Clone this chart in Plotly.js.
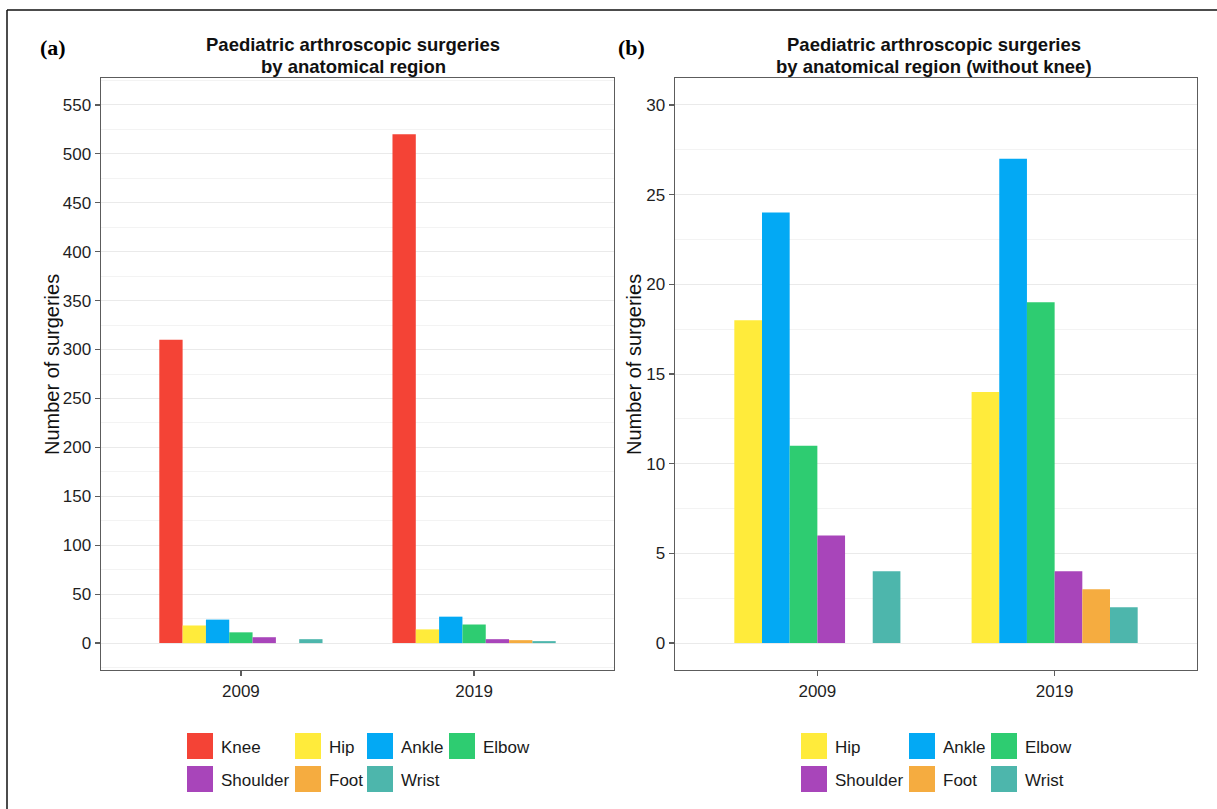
<!DOCTYPE html>
<html>
<head>
<meta charset="utf-8">
<script src="https://cdn.plot.ly/plotly-3.0.1.min.js"></script>
<style>
  html, body { margin: 0; padding: 0; background: #ffffff; }
  #chart { width: 1217px; height: 809px; }
</style>
</head>
<body>
<div id="chart"></div>
<script>
// ---- Data ----
const years = ['2009', '2019'];
const regionsAll = ['Knee', 'Hip', 'Ankle', 'Elbow', 'Shoulder', 'Foot', 'Wrist'];
const regionsNoKnee = ['Hip', 'Ankle', 'Elbow', 'Shoulder', 'Foot', 'Wrist'];
const knee = [310, 520];
const hip = [18, 14];
const ankle = [24, 27];
const elbow = [11, 19];
const shoulder = [6, 4];
const foot = [0, 3];
const wrist = [4, 2];
const seriesValues = { Knee: knee, Hip: hip, Ankle: ankle, Elbow: elbow, Shoulder: shoulder, Foot: foot, Wrist: wrist };
const regionColors = {
  Knee: '#F44336', Hip: '#FFEB3B', Ankle: '#03A9F4', Elbow: '#2ECC71',
  Shoulder: '#A845BA', Foot: '#F5AC40', Wrist: '#4DB6AC'
};
const titleA = ['Paediatric arthroscopic surgeries', 'by anatomical region'];
const titleB = ['Paediatric arthroscopic surgeries', 'by anatomical region (without knee)'];
const yTitle = 'Number of surgeries';

// ---- Geometry helpers (pixel -> paper) ----
const W = 1217, H = 809;
const px = x => x / W;
const py = y => 1 - y / H;

const FONT = 'Liberation Sans, Arial, sans-serif';
const frameColor = '#5c5c5c';

const traces = [];
regionsAll.forEach(r => {
  traces.push({
    type: 'bar', name: r, x: years, y: seriesValues[r],
    xaxis: 'x', yaxis: 'y', showlegend: false,
    marker: { color: regionColors[r], line: { width: 0 } },
    hoverinfo: 'x+y+name'
  });
});
regionsNoKnee.forEach(r => {
  traces.push({
    type: 'bar', name: r, x: years, y: seriesValues[r],
    xaxis: 'x2', yaxis: 'y2', showlegend: false,
    marker: { color: regionColors[r], line: { width: 0 } },
    hoverinfo: 'x+y+name'
  });
});

const axisCommon = {
  showline: true, mirror: true, linecolor: frameColor, linewidth: 1.4,
  ticks: 'outside', ticklen: 5, tickwidth: 1.2, tickcolor: frameColor,
  tickfont: { family: FONT, size: 17, color: '#1f1f1f' },
  zeroline: false, fixedrange: true
};

const panelTop = 78, panelBottom = 670;
const A = { left: 101, right: 614 };
const B = { left: 675, right: 1197 };

const layout = {
  width: W, height: H,
  margin: { l: 0, r: 0, t: 0, b: 0 },
  paper_bgcolor: '#ffffff', plot_bgcolor: '#ffffff',
  barmode: 'group', bargap: 0.3, bargroupgap: 0,
  showlegend: false,
  xaxis: Object.assign({}, axisCommon, {
    domain: [px(A.left), px(A.right)], anchor: 'y', type: 'category',
    range: [-0.6, 1.6], showgrid: false
  }),
  yaxis: Object.assign({}, axisCommon, {
    domain: [py(panelBottom), py(panelTop)], anchor: 'x',
    range: [-27.5, 577.5], tick0: 0, dtick: 50,
    showgrid: true, gridcolor: '#EAEAEA', gridwidth: 1,
    minor: { dtick: 25, showgrid: true, gridcolor: '#F3F3F3', gridwidth: 1, ticks: '' }
  }),
  xaxis2: Object.assign({}, axisCommon, {
    domain: [px(B.left), px(B.right)], anchor: 'y2', type: 'category',
    range: [-0.6, 1.6], showgrid: false
  }),
  yaxis2: Object.assign({}, axisCommon, {
    domain: [py(panelBottom), py(panelTop)], anchor: 'x2',
    range: [-1.5, 31.5], tick0: 0, dtick: 5,
    showgrid: true, gridcolor: '#EAEAEA', gridwidth: 1,
    minor: { dtick: 2.5, showgrid: true, gridcolor: '#F3F3F3', gridwidth: 1, ticks: '' }
  }),
  shapes: [],
  annotations: []
};

// Outer figure border (top and left edges visible)
layout.shapes.push({ type: 'line', xref: 'paper', yref: 'paper', x0: px(7), x1: px(1217), y0: py(10), y1: py(10), line: { color: '#111', width: 1.5 } });
layout.shapes.push({ type: 'line', xref: 'paper', yref: 'paper', x0: px(7), x1: px(7), y0: py(10), y1: py(809), line: { color: '#111', width: 1.5 } });

// Panel letters
layout.annotations.push({ xref: 'paper', yref: 'paper', x: px(53), y: py(47), text: '<b>(a)</b>', showarrow: false,
  font: { family: 'Liberation Serif, Times New Roman, serif', size: 22, color: '#000' }, xanchor: 'center', yanchor: 'middle' });
layout.annotations.push({ xref: 'paper', yref: 'paper', x: px(631), y: py(47), text: '<b>(b)</b>', showarrow: false,
  font: { family: 'Liberation Serif, Times New Roman, serif', size: 22, color: '#000' }, xanchor: 'center', yanchor: 'middle' });

// Titles
function addTitle(lines, cx) {
  lines.forEach((t, i) => {
    layout.annotations.push({ xref: 'paper', yref: 'paper', x: px(cx), y: py(44 + i * 22), text: '<b>' + t + '</b>',
      showarrow: false, xanchor: 'center', yanchor: 'middle',
      font: { family: FONT, size: 18.5, color: '#111' } });
  });
}
addTitle(titleA, (A.left + A.right) / 2 - 4);
addTitle(titleB, (B.left + B.right) / 2 - 2);

// Y axis titles
[[52, A], [634, B]].forEach(([x, P]) => {
  layout.annotations.push({ xref: 'paper', yref: 'paper', x: px(x), y: py(365), text: yTitle, textangle: -90,
    showarrow: false, xanchor: 'center', yanchor: 'middle', font: { family: FONT, size: 20, color: '#111' } });
});

// Legends (built from region names and colours)
function addLegend(names, cols, rows) {
  names.forEach((n, i) => {
    const c = i % cols.length, r = Math.floor(i / cols.length);
    const x0 = cols[c], yc = rows[r];
    layout.shapes.push({ type: 'rect', xref: 'paper', yref: 'paper', x0: px(x0), x1: px(x0 + 26), y0: py(yc + 13), y1: py(yc - 13),
      fillcolor: regionColors[n], line: { width: 0 } });
    layout.annotations.push({ xref: 'paper', yref: 'paper', x: px(x0 + 32), y: py(yc + 1), text: n, showarrow: false,
      xanchor: 'left', yanchor: 'middle', font: { family: FONT, size: 17, color: '#1a1a1a' } });
  });
}
addLegend(regionsAll, [187, 295, 367, 449], [746, 779]);
addLegend(regionsNoKnee, [801, 909, 991], [746, 779]);

Plotly.newPlot('chart', traces, layout, { displayModeBar: false, staticPlot: true });
</script>
</body>
</html>
